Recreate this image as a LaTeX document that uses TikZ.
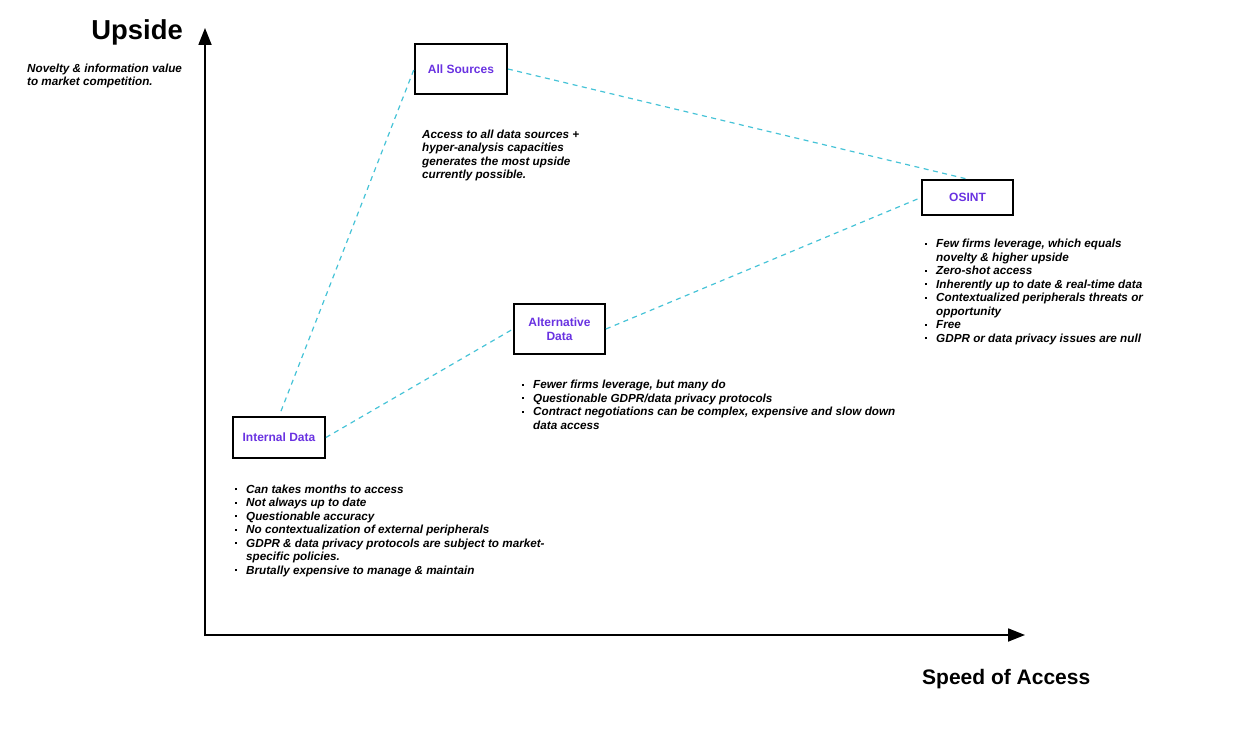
\documentclass[tikz,border=0pt]{standalone}
\usepackage{fontspec}
\setmainfont{Liberation Sans}
\usetikzlibrary{arrows.meta}
\definecolor{boxtext}{RGB}{105,50,225}
\definecolor{link}{RGB}{70,195,215}
\newcommand{\bul}{\makebox[11pt][l]{\raisebox{2.8pt}{\rule{1.8pt}{1.8pt}}}}
\newcommand{\nob}{\makebox[11pt][l]{}}
\tikzset{
  box/.style={draw, line width=1.8pt, inner sep=0pt, font=\fontsize{12}{14}\selectfont\bfseries, text=boxtext, align=center},
  body/.style={inner sep=0pt, anchor=base west, align=left, font=\fontsize{11.7}{13.5}\selectfont\bfseries\itshape},
  link/.style={draw=link, line width=1.2pt, dash pattern=on 5pt off 4.5pt},
  axis/.style={line width=1.8pt, -{Triangle[length=17pt,width=13pt]}},
  title/.style={inner sep=0pt, font=\bfseries}
}
\begin{document}
\begin{tikzpicture}[x=1pt,y=-1pt]
\useasboundingbox (0,0) rectangle (1238,733);
% axes
\coordinate (origin) at (205,635);
\coordinate (ytip) at (205,28);
\coordinate (xtip) at (1025,635);
\draw[axis] ([yshift=-1pt]origin) -- (ytip);
\draw[axis] ([xshift=-0.9pt]origin) -- (xtip);
\node[title, anchor=base east, font=\fontsize{27.4}{30}\selectfont\bfseries] (upside) at (183,40) {Upside};
\node[title, anchor=base west, font=\fontsize{21}{24}\selectfont\bfseries] (speed) at (922,684) {Speed of Access};
% texts (base anchor = baseline of the last line)
\node[body] (novelty) at (27,86) {Novelty \& information value\\to market competition.};
% boxes
\node[box, minimum width=92pt, minimum height=50pt] (all) at (461,69) {All Sources};
\node[box, minimum width=91pt, minimum height=35pt] (osint) at (967.5,197.5) {OSINT};
\node[box, minimum width=91pt, minimum height=50pt] (alt) at (559.5,329) {Alternative\\Data};
\node[box, minimum width=92pt, minimum height=41pt] (internal) at (279,437.5) {Internal Data};
% links
\draw[link] ([xshift=2pt,yshift=5pt]internal.north) -- (all.west);
\draw[link] (internal.east) -- (alt.west);
\draw[link] (alt.east) -- (osint.west);
\draw[link] (all.east) -- (osint.north);
\node[body] (alltext) at (422,178.5) {Access to all data sources +\\hyper-analysis capacities\\generates the most upside\\currently possible.};
\node[body] (osinttext) at (925,342) {\bul Few firms leverage, which equals\\\nob novelty \& higher upside\\\bul Zero-shot access\\\bul Inherently up to date \& real-time data\\\bul Contextualized peripherals threats or\\\nob opportunity\\\bul Free\\\bul GDPR or data privacy issues are null};
\node[body] (alttext) at (522,429) {\bul Fewer firms leverage, but many do\\\bul Questionable GDPR/data privacy protocols\\\bul Contract negotiations can be complex, expensive and slow down\\\nob data access};
\node[body] (inttext) at (235,574) {\bul Can takes months to access\\\bul Not always up to date\\\bul Questionable accuracy\\\bul No contextualization of external peripherals\\\bul GDPR \& data privacy protocols are subject to market-\\\nob specific policies.\\\bul Brutally expensive to manage \& maintain};
\end{tikzpicture}
\end{document}
